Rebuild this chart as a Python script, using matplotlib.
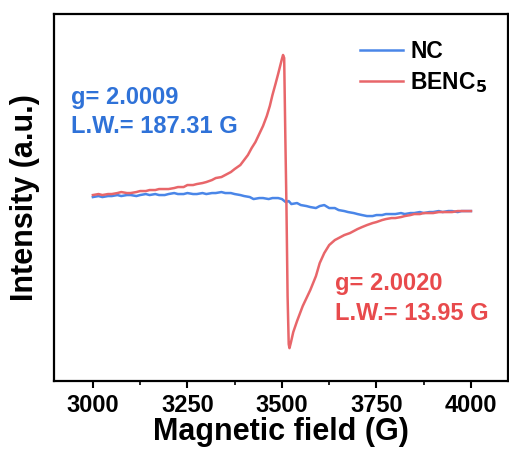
import matplotlib
matplotlib.use("Agg")
import matplotlib.pyplot as plt
from matplotlib.ticker import MultipleLocator

plt.rcParams['font.family'] = ['Liberation Sans', 'DejaVu Sans']
plt.rcParams['font.weight'] = 'bold'

# EPR spectra, intensity in arbitrary units
nc_field = [3000, 3015, 3025, 3040, 3050, 3065, 3075, 3090, 3100, 3115, 3125,
            3140, 3150, 3165, 3175, 3190, 3200, 3215, 3225, 3240, 3250, 3265,
            3275, 3290, 3300, 3315, 3325, 3340, 3350, 3365, 3375, 3390, 3400,
            3415, 3425, 3440, 3450, 3465, 3475, 3490, 3500, 3510, 3518, 3525,
            3540, 3550, 3565, 3575, 3590, 3600, 3612, 3625, 3640, 3650, 3665,
            3675, 3690, 3700, 3712, 3725, 3740, 3750, 3765, 3775, 3790, 3800,
            3815, 3825, 3840, 3850, 3865, 3875, 3890, 3900, 3915, 3925, 3940,
            3950, 3965, 3975, 3990, 4000]
nc_int = [-1, 0, -1, 0, 0, 1, 0, 1, 1, 0, 1,
          2, 1, 2, 1, 1, 2, 3, 2, 2, 3, 2,
          2, 3, 2, 3, 3, 4, 3, 3, 2, 1, 0,
          -1, -3, -2, -2, -3, -2, -2, -3, -6, -5, -8,
          -7, -9, -10, -11, -12, -10, -9, -12, -12, -14, -15,
          -16, -17, -18, -19, -20, -20, -19, -19, -18, -18, -18,
          -17, -18, -17, -17, -16, -17, -16, -16, -15, -16, -15,
          -15, -16, -15, -15, -15]

benc_field = [3000, 3015, 3025, 3040, 3050, 3065, 3075, 3090, 3100, 3115, 3125,
              3140, 3150, 3165, 3175, 3190, 3200, 3215, 3225, 3240, 3250, 3265,
              3275, 3290, 3300, 3315, 3325, 3340, 3350, 3365, 3375, 3390, 3400,
              3410, 3420, 3430, 3440, 3450, 3460, 3468, 3475, 3483, 3490, 3496,
              3500, 3503, 3506, 3509, 3512, 3515, 3518, 3520, 3524, 3530, 3540,
              3555, 3575, 3590, 3600, 3612, 3625, 3640, 3650, 3665, 3680, 3690,
              3700, 3712, 3725, 3740, 3750, 3765, 3775, 3790, 3800, 3815, 3825,
              3840, 3850, 3865, 3875, 3890, 3900, 3915, 3925, 3940, 3950, 3965,
              3975, 3990, 4000]
benc_int = [1, 2, 1, 2, 2, 3, 4, 3, 3, 4, 5,
            5, 6, 6, 7, 7, 7, 8, 9, 9, 11, 11,
            12, 13, 14, 16, 18, 19, 21, 24, 27, 31, 36,
            41, 48, 54, 62, 70, 80, 90, 101, 112, 122, 131,
            137, 141, 138, 60, -10, -100, -148, -152, -146, -136, -125,
            -110, -94, -80, -67, -57, -49, -44, -42, -39, -37, -35,
            -33, -31, -29, -27, -26, -24, -23, -22, -22, -21, -20,
            -19, -18, -18, -17, -17, -17, -16, -16, -16, -16, -15,
            -15, -15, -15]

fig = plt.figure(figsize=(5.09, 4.5), dpi=100)
ax = fig.add_axes([0.106, 0.153, 0.892, 0.816])

ax.plot(nc_field, nc_int, color='#4a86e8', lw=1.8, label='NC')
ax.plot(benc_field, benc_int, color='#e8666a', lw=1.8, label='BENC$_\\mathbf{5}$')

ax.set_xlim(2897, 4098)
ax.set_ylim(-185, 182)
ax.xaxis.set_major_locator(MultipleLocator(250))
ax.xaxis.set_minor_locator(MultipleLocator(125))
ax.tick_params(axis='x', which='major', direction='out', length=5, width=1.5,
               labelsize=17, pad=4)
ax.tick_params(axis='x', which='minor', direction='out', length=3, width=1.2)
ax.set_yticks([])
for s in ax.spines.values():
    s.set_linewidth(1.6)

ax.set_xlabel('Magnetic field (G)', fontsize=22, fontweight='bold', labelpad=0)
ax.set_ylabel('Intensity (a.u.)', fontsize=22, fontweight='bold', labelpad=10)

ax.text(0.037, 0.755, 'g= 2.0009', transform=ax.transAxes, color='#2f72d8',
        fontsize=17, fontweight='bold')
ax.text(0.037, 0.676, 'L.W.= 187.31 G', transform=ax.transAxes, color='#2f72d8',
        fontsize=17, fontweight='bold')
ax.text(0.619, 0.248, 'g= 2.0020', transform=ax.transAxes, color='#e84a4c',
        fontsize=17, fontweight='bold')
ax.text(0.619, 0.166, 'L.W.= 13.95 G', transform=ax.transAxes, color='#e84a4c',
        fontsize=17, fontweight='bold')

ax.legend(loc='upper right', bbox_to_anchor=(1.0, 0.985), frameon=False,
          handlelength=1.9, handletextpad=0.3, labelspacing=0.3,
          prop={'weight': 'bold', 'size': 16.5})

fig.savefig('out.png', dpi=100)
